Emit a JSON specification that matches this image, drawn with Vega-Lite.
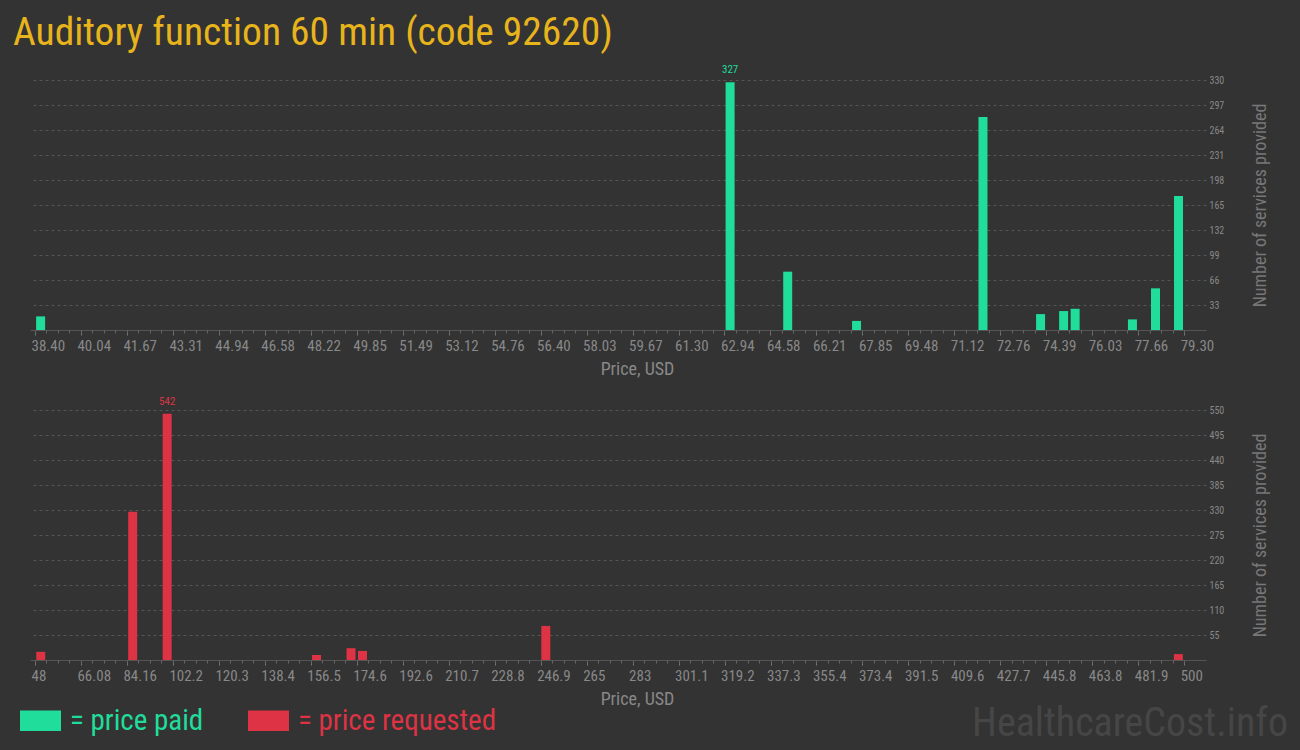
{
  "$schema": "https://vega.github.io/schema/vega-lite/v6.json",
  "background": "#333333",
  "padding": {"left": 13, "top": 12, "right": 12, "bottom": 10},
  "autosize": {"type": "pad"},
  "title": {
    "text": "Auditory function 60 min (code 92620)",
    "anchor": "start",
    "frame": "group",
    "font": "Roboto Condensed",
    "fontSize": 39.5,
    "fontWeight": "normal",
    "color": "#e8b41c",
    "dx": -17,
    "offset": 11
  },
  "config": {
    "view": {"stroke": null},
    "axis": {
      "labelFont": "Roboto Condensed",
      "titleFont": "Roboto Condensed"
    }
  },
  "spacing": 80,
  "bounds": "flush",
  "vconcat": [
    {
      "width": 1176,
      "height": 250,
      "data": {
        "values": [
          {"series": "price paid", "price": 38.6, "count": 18},
          {"series": "price paid", "price": 63.14, "count": 327},
          {"series": "price paid", "price": 65.19, "count": 77},
          {"series": "price paid", "price": 67.64, "count": 12},
          {"series": "price paid", "price": 72.14, "count": 281},
          {"series": "price paid", "price": 74.19, "count": 21},
          {"series": "price paid", "price": 75.01, "count": 25},
          {"series": "price paid", "price": 75.42, "count": 28},
          {"series": "price paid", "price": 77.46, "count": 14},
          {"series": "price paid", "price": 78.28, "count": 55},
          {"series": "price paid", "price": 79.1, "count": 177}
        ]
      },
      "layer": [
        {
          "mark": {"type": "bar", "size": 9},
          "encoding": {
            "x": {
              "field": "price",
              "type": "quantitative",
              "scale": {"domain": [38.4, 79.9], "nice": false, "zero": false},
              "axis": {
                "orient": "bottom",
                "values": [38.40, 40.036, 41.672, 43.308, 44.944, 46.58, 48.216, 49.852, 51.488, 53.124, 54.76, 56.396, 58.032, 59.668, 61.304, 62.94, 64.576, 66.212, 67.848, 69.484, 71.12, 72.756, 74.392, 76.028, 77.664, 79.3],
                "tickCount": 100,
                "format": ".2f",
                "title": "Price, USD",
                "titleColor": "#888888",
                "titleFontSize": 18,
                "titleFontWeight": "normal",
                "titleX": 607,
                "titleAlign": "center",
                "titlePadding": 7,
                "labelColor": "#888888",
                "labelFontSize": 15,
                "labelAlign": "left",
                "labelOffset": -4,
                "labelPadding": 3,
                "labelFlush": false,
                "labelOverlap": false,
                "labelBound": false,
                "tickSize": 5,
                "tickColor": "#777777",
                "domainColor": "#555555",
                "grid": false
              }
            },
            "y": {
              "field": "count",
              "type": "quantitative",
              "scale": {"domain": [0, 330], "nice": false},
              "axis": {
                "orient": "right",
                "values": [33, 66, 99, 132, 165, 198, 231, 264, 297, 330],
                "tickCount": 50,
                "title": "Number of services provided",
                "titleColor": "#777777",
                "titleFontSize": 18,
                "titleFontWeight": "normal",
                "titleAngle": 270,
                "titlePadding": 46,
                "labelColor": "#888888",
                "labelFontSize": 10,
                "labelPadding": 3,
                "labelOverlap": false,
                "ticks": false,
                "domain": false,
                "grid": true,
                "gridColor": "#555555",
                "gridDash": [3, 3]
              }
            },
            "color": {
              "field": "series",
              "type": "nominal",
              "scale": {"domain": ["price paid", "price requested"], "range": ["#20dd9b", "#dd3344"]},
              "legend": {
                "orient": "none",
                "legendX": -10,
                "legendY": 620,
                "direction": "horizontal",
                "title": null,
                "symbolType": "M-1,-0.5H1V0.5H-1Z",
                "symbolSize": 1681,
                "symbolStrokeWidth": 0,
                "symbolOpacity": 1,
                "labelFont": "Roboto Condensed",
                "labelFontSize": 29,
                "labelExpr": "'= ' + datum.label",
                "labelOffset": 9,
                "labelLimit": 400,
                "columnPadding": 44,
                "encode": {"labels": {"update": {"fill": {"signal": "scale('color', datum.value)"}}}}
              }
            }
          }
        },
        {
          "transform": [
            {"joinaggregate": [{"op": "max", "field": "count", "as": "maxc"}]},
            {"filter": "datum.count == datum.maxc"}
          ],
          "mark": {"type": "text", "baseline": "alphabetic", "dy": -9, "fontSize": 11, "font": "Roboto Condensed", "color": "#20dd9b"},
          "encoding": {
            "x": {
              "field": "price",
              "type": "quantitative",
              "axis": {
                "orient": "bottom",
                "values": [38.4, 38.809, 39.218, 39.627, 40.036, 40.445, 40.854, 41.263, 41.672, 42.081, 42.49, 42.899, 43.308, 43.717, 44.126, 44.535, 44.944, 45.353, 45.762, 46.171, 46.58, 46.989, 47.398, 47.807, 48.216, 48.625, 49.034, 49.443, 49.852, 50.261, 50.67, 51.079, 51.488, 51.897, 52.306, 52.715, 53.124, 53.533, 53.942, 54.351, 54.76, 55.169, 55.578, 55.987, 56.396, 56.805, 57.214, 57.623, 58.032, 58.441, 58.85, 59.259, 59.668, 60.077, 60.486, 60.895, 61.304, 61.713, 62.122, 62.531, 62.94, 63.349, 63.758, 64.167, 64.576, 64.985, 65.394, 65.803, 66.212, 66.621, 67.03, 67.439, 67.848, 68.257, 68.666, 69.075, 69.484, 69.893, 70.302, 70.711, 71.12, 71.529, 71.938, 72.347, 72.756, 73.165, 73.574, 73.983, 74.392, 74.801, 75.21, 75.619, 76.028, 76.437, 76.846, 77.255, 77.664, 78.073, 78.482, 78.891, 79.3],
                "tickCount": 500,
                "labels": false,
                "title": null,
                "domain": false,
                "grid": false,
                "tickSize": 3,
                "tickColor": "#666666"
              }
            },
            "y": {"field": "count", "type": "quantitative"},
            "text": {"field": "count", "type": "quantitative"}
          }
        }
      ],
      "resolve": {"axis": {"x": "independent"}}
    },
    {
      "width": 1176,
      "height": 250,
      "title": {
        "text": "HealthcareCost.info",
        "orient": "bottom",
        "anchor": "end",
        "frame": "group",
        "font": "Roboto Condensed",
        "fontSize": 40,
        "fontWeight": "normal",
        "color": "#464646",
        "dx": 82,
        "offset": -4
      },
      "data": {
        "values": [
          {"series": "price requested", "price": 50.26, "count": 18},
          {"series": "price requested", "price": 86.42, "count": 326},
          {"series": "price requested", "price": 99.98, "count": 542},
          {"series": "price requested", "price": 158.74, "count": 11},
          {"series": "price requested", "price": 172.3, "count": 26},
          {"series": "price requested", "price": 176.8, "count": 20},
          {"series": "price requested", "price": 248.9, "count": 75},
          {"series": "price requested", "price": 497.7, "count": 13}
        ]
      },
      "layer": [
        {
          "mark": {"type": "bar", "size": 9},
          "encoding": {
            "x": {
              "field": "price",
              "type": "quantitative",
              "scale": {"domain": [48, 506.6], "nice": false, "zero": false},
              "axis": {
                "orient": "bottom",
                "values": [48, 66.08, 84.16, 102.24, 120.32, 138.4, 156.48, 174.56, 192.64, 210.72, 228.8, 246.88, 264.96, 283.04, 301.12, 319.2, 337.28, 355.36, 373.44, 391.52, 409.6, 427.68, 445.76, 463.84, 481.92, 500],
                "tickCount": 100,
                "format": ".4~r",
                "title": "Price, USD",
                "titleColor": "#888888",
                "titleFontSize": 18,
                "titleFontWeight": "normal",
                "titleX": 607,
                "titleAlign": "center",
                "titlePadding": 7,
                "labelColor": "#888888",
                "labelFontSize": 15,
                "labelAlign": "left",
                "labelOffset": -4,
                "labelPadding": 3,
                "labelFlush": false,
                "labelOverlap": false,
                "labelBound": false,
                "tickSize": 5,
                "tickColor": "#777777",
                "domainColor": "#555555",
                "grid": false
              }
            },
            "y": {
              "field": "count",
              "type": "quantitative",
              "scale": {"domain": [0, 550], "nice": false},
              "axis": {
                "orient": "right",
                "values": [55, 110, 165, 220, 275, 330, 385, 440, 495, 550],
                "tickCount": 50,
                "title": "Number of services provided",
                "titleColor": "#777777",
                "titleFontSize": 18,
                "titleFontWeight": "normal",
                "titleAngle": 270,
                "titlePadding": 46,
                "labelColor": "#888888",
                "labelFontSize": 10,
                "labelPadding": 3,
                "labelOverlap": false,
                "ticks": false,
                "domain": false,
                "grid": true,
                "gridColor": "#555555",
                "gridDash": [3, 3]
              }
            },
            "color": {"field": "series", "type": "nominal"}
          }
        },
        {
          "transform": [
            {"joinaggregate": [{"op": "max", "field": "count", "as": "maxc"}]},
            {"filter": "datum.count == datum.maxc"}
          ],
          "mark": {"type": "text", "baseline": "alphabetic", "dy": -9, "fontSize": 11, "font": "Roboto Condensed", "color": "#dd3344"},
          "encoding": {
            "x": {
              "field": "price",
              "type": "quantitative",
              "axis": {
                "orient": "bottom",
                "values": [48, 52.52, 57.04, 61.56, 66.08, 70.6, 75.12, 79.64, 84.16, 88.68, 93.2, 97.72, 102.24, 106.76, 111.28, 115.8, 120.32, 124.84, 129.36, 133.88, 138.4, 142.92, 147.44, 151.96, 156.48, 161, 165.52, 170.04, 174.56, 179.08, 183.6, 188.12, 192.64, 197.16, 201.68, 206.2, 210.72, 215.24, 219.76, 224.28, 228.8, 233.32, 237.84, 242.36, 246.88, 251.4, 255.92, 260.44, 264.96, 269.48, 274, 278.52, 283.04, 287.56, 292.08, 296.6, 301.12, 305.64, 310.16, 314.68, 319.2, 323.72, 328.24, 332.76, 337.28, 341.8, 346.32, 350.84, 355.36, 359.88, 364.4, 368.92, 373.44, 377.96, 382.48, 387, 391.52, 396.04, 400.56, 405.08, 409.6, 414.12, 418.64, 423.16, 427.68, 432.2, 436.72, 441.24, 445.76, 450.28, 454.8, 459.32, 463.84, 468.36, 472.88, 477.4, 481.92, 486.44, 490.96, 495.48, 500],
                "tickCount": 500,
                "labels": false,
                "title": null,
                "domain": false,
                "grid": false,
                "tickSize": 3,
                "tickColor": "#666666"
              }
            },
            "y": {"field": "count", "type": "quantitative"},
            "text": {"field": "count", "type": "quantitative"}
          }
        }
      ],
      "resolve": {"axis": {"x": "independent"}}
    }
  ]
}
